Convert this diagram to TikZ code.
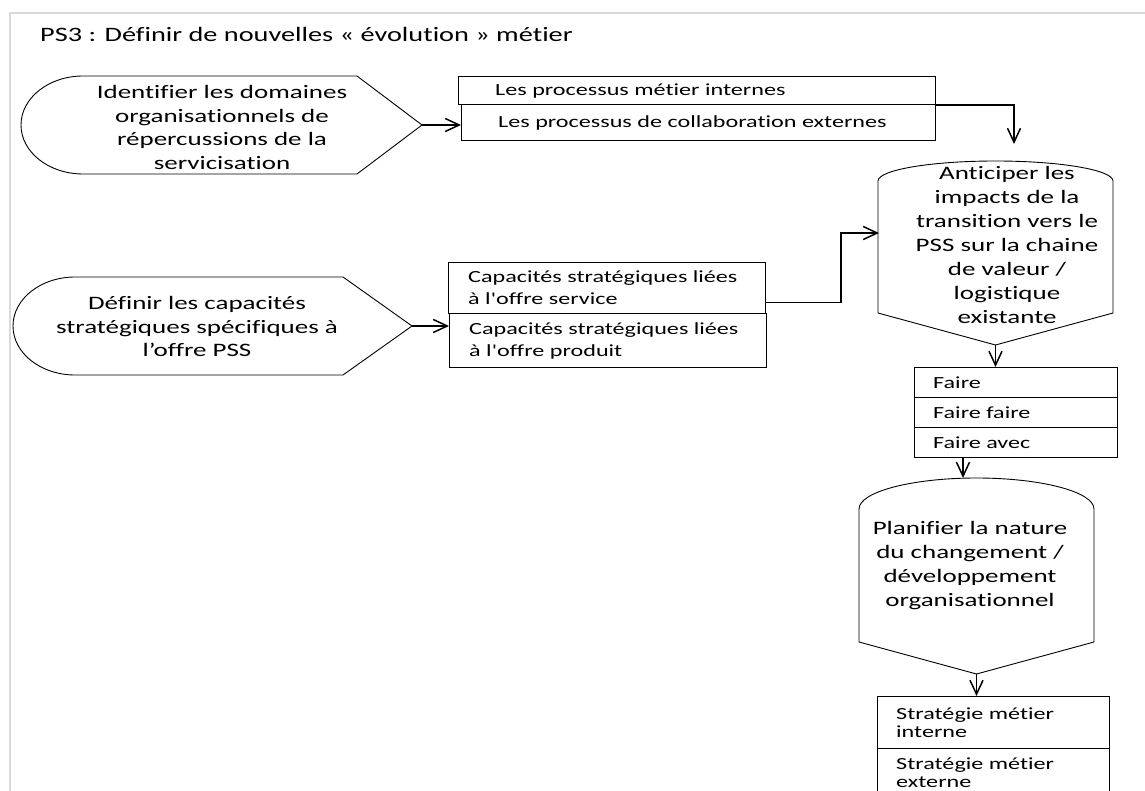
\documentclass[tikz,border=0pt]{standalone}
\usepackage{fontspec}
\setmainfont{Carlito}[Ligatures=NoCommon]
\newfontfamily\widefont[FakeStretch=1.42, Ligatures=NoCommon]{Carlito}
\usetikzlibrary{arrows.meta}

\begin{document}
\begin{tikzpicture}[x=1pt, y=-1pt,
    outline/.style={draw, line width=0.9pt},
    cell/.style={rectangle, draw, line width=1.1pt, anchor=north west, inner sep=0pt},
    celltext/.style={anchor=west, align=left, inner sep=0pt, font=\widefont\fontsize{17}{22}\selectfont},
    shapetext/.style={align=center, inner sep=0pt, font=\widefont\fontsize{19}{23.5}\selectfont},
    flow/.style={-{Straight Barb[length=14pt, width=13pt]}, line width=1.5pt}
]
    \useasboundingbox (0,0) rectangle (1145,791);
    \clip (0,0) rectangle (1145,791);

    % Frame and title
    \draw[black!15, line width=2.5pt] (10,791) -- (10,13) -- (1145,13);
    \node[anchor=base west, inner sep=0pt, font=\fontsize{20.5}{24}\selectfont] (title) at (40,42) {\scalebox{1.38}[1]{PS3 : Définir de nouvelles « évolution » métier}};

    % Identifier les domaines
    \draw[outline] (83,76) -- (357,76) -- (422,125) -- (357,174) -- (83,174)
        .. controls (48.8,174) and (21,152.1) .. (21,125)
        .. controls (21,97.9) and (48.8,76) .. (83,76) -- cycle;
    \coordinate (idtip) at (422,125);
    \node[shapetext] (idtxt) at (222,127.5) {Identifier les domaines\\organisationnels de\\répercussions de la\\servicisation};

    \node[cell, minimum width=477pt, minimum height=28pt] (procint) at (458,76) {};
    \node[celltext] at ([xshift=37pt]procint.west) {Les processus métier internes};
    \node[cell, minimum width=474pt, minimum height=36pt] (procext) at (461,104) {};
    \node[celltext] at ([xshift=37pt]procext.west) {Les processus de collaboration externes};

    % Definir les capacites
    \draw[outline] (75,277) -- (343,277) -- (412,326) -- (343,375) -- (75,375)
        .. controls (40.8,375) and (13,353.1) .. (13,326)
        .. controls (13,298.9) and (40.8,277) .. (75,277) -- cycle;
    \coordinate (captip) at (412,326);
    \node[shapetext] (captxt) at (197,326.5) {Définir les capacités\\stratégiques spécifiques à\\l’offre PSS};

    \node[cell, minimum width=317pt, minimum height=51pt] (capserv) at (448,262) {};
    \node[celltext] at ([xshift=20pt]capserv.west) {Capacités stratégiques liées\\à l'offre service};
    \node[cell, minimum width=317pt, minimum height=54pt] (capprod) at (449,313) {};
    \node[celltext] at ([xshift=20pt]capprod.west) {Capacités stratégiques liées\\à l'offre produit};

    % Anticiper les impacts
    \draw[outline] (878,313) -- (878,181)
        .. controls (878,170) and (930.6,161) .. (995.5,161)
        .. controls (1060.4,161) and (1113,170) .. (1113,181)
        -- (1113,313) -- (995.5,345) -- cycle;
    \coordinate (anttip) at (995.5,345);
    \coordinate (antleft) at (879,233);
    \coordinate (anttop) at (1014,144);
    \node[shapetext, font=\widefont\fontsize{19}{24}\selectfont] (anttxt) at (1007,245) {Anticiper les\\impacts de la\\transition vers le\\PSS sur la chaine\\de valeur /\\logistique\\existante};

    \node[cell, minimum width=203pt, minimum height=30pt] (fa1) at (914,367) {};
    \node[celltext] at ([xshift=19pt]fa1.west) {Faire};
    \node[cell, minimum width=203pt, minimum height=30pt] (fa2) at (914,397) {};
    \node[celltext] at ([xshift=19pt]fa2.west) {Faire faire};
    \node[cell, minimum width=203pt, minimum height=30pt] (fa3) at (914,427) {};
    \node[celltext] at ([xshift=19pt]fa3.west) {Faire avec};

    % Planifier
    \draw[outline] (859,642) -- (859,509)
        .. controls (859,491.9) and (911.6,478) .. (976.5,478)
        .. controls (1041.4,478) and (1094,491.9) .. (1094,509)
        -- (1094,642) -- (976.5,674) -- cycle;
    \coordinate (plantop) at (963,478);
    \coordinate (plantip) at (976.5,674);
    \node[shapetext, font=\widefont\fontsize{19}{24}\selectfont] (plantxt) at (970,566) {Planifier la nature\\du changement /\\développement\\organisationnel};

    \node[cell, minimum width=232pt, minimum height=52pt] (sint) at (877,696) {};
    \node[celltext, font=\widefont\fontsize{17}{18}\selectfont] at ([xshift=19pt]sint.west) {Stratégie métier\\interne};
    \node[cell, minimum width=232pt, minimum height=56pt] (sext) at (877,748) {};
    \node[celltext, font=\widefont\fontsize{17}{18}\selectfont] at ([xshift=19pt, yshift=4pt]sext.west) {Stratégie métier\\externe};

    % Arrows
    \draw[flow] (idtip) -- (idtip -| procext.west);
    \draw[flow] (procint.south east) -- (anttop |- procint.south) -- (anttop);
    \draw[flow] (captip) -- (captip -| capprod.west);
    \draw[flow] ([yshift=-14.5pt]capserv.east) -- ++(75,0) |- (antleft);
    \draw[flow] (anttip) -- (anttip |- fa1.north);
    \draw[flow] (plantop |- fa3.south) -- (plantop);
    \draw[flow] (plantip) -- (plantip |- sint.north);
\end{tikzpicture}
\end{document}
